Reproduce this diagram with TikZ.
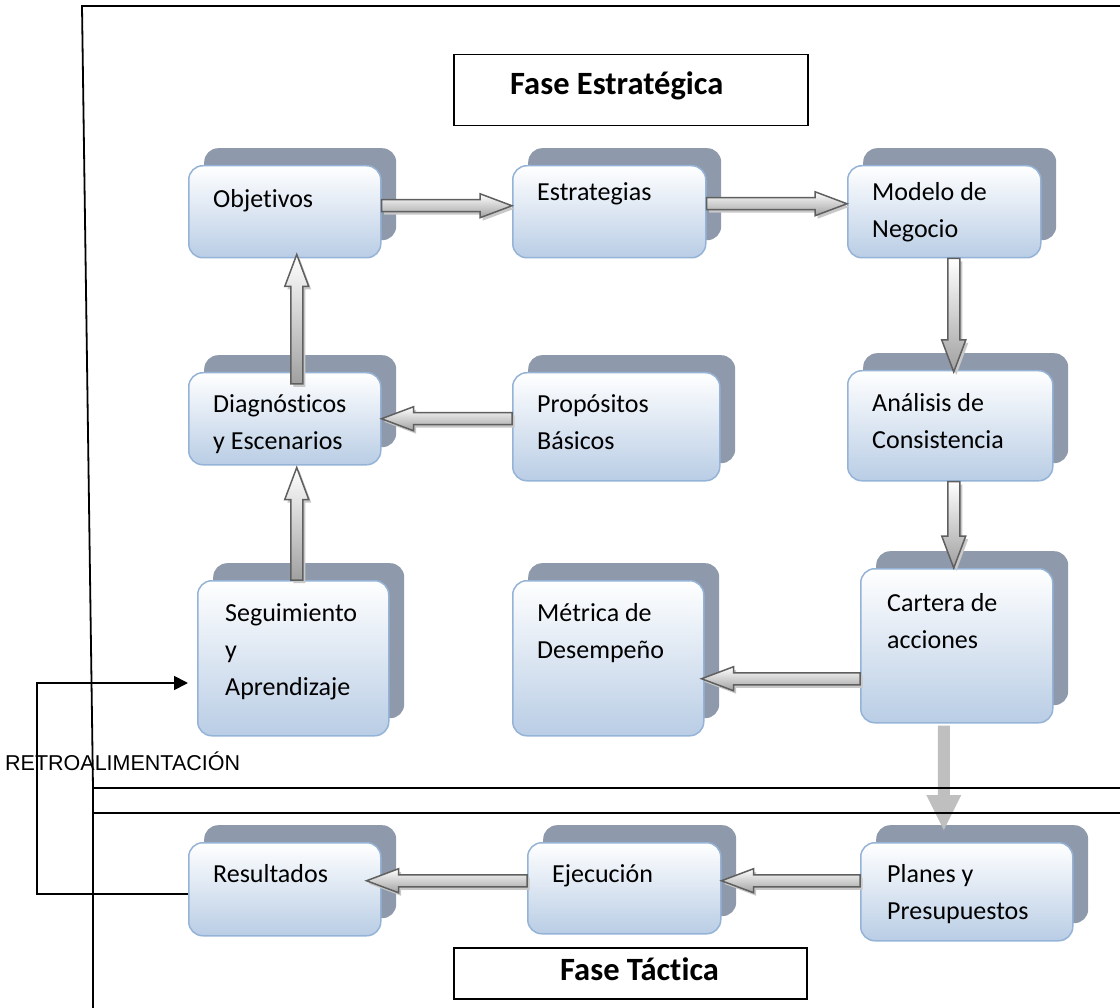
\documentclass[tikz,border=0pt]{standalone}
\usepackage{fontspec}
\setmainfont{Carlito}[Ligatures=NoCommon]
\newfontfamily\arialf{Liberation Sans}
\usetikzlibrary{calc,arrows.meta}
\definecolor{fborder}{HTML}{95B3D7}
\definecolor{fblue}{HTML}{B9CDE5}
\definecolor{bgray}{HTML}{8E9AAB}
\definecolor{aout}{HTML}{5F5F5F}
\definecolor{ashade}{HTML}{A0A0A0}
\definecolor{ashadow}{HTML}{C8C8C8}
\definecolor{solidarr}{HTML}{BFBFBF}
\tikzset{
 frontbox/.style={draw=fborder, line width=1.5pt, rounded corners=14pt, top color=white, bottom color=fblue, anchor=north west, inner sep=0pt},
 backbox/.style={fill=bgray, rounded corners=14pt, anchor=north west, inner sep=0pt},
 lbl/.style={anchor=north west, inner sep=0pt, align=left, font=\fontsize{26}{37}\selectfont, yshift=25.9pt},
 titlebox/.style={draw=black, line width=1.5pt, anchor=north west, inner sep=0pt},
 titletext/.style={anchor=base west, inner sep=0pt, font=\fontsize{32.5}{38}\selectfont\bfseries},
 frame/.style={draw=black, line width=1.8pt},
 fb/.style={draw=black, line width=1.8pt},
 barrow/.style={draw=aout, line width=1.5pt, top color=white, bottom color=ashade, line join=miter},
 barrowshadow/.style={fill=ashadow},
}
\newcommand\stagebox[5]{%
 \node[backbox, minimum width={(#4-#2)*1pt}, minimum height={(#5-#3)*1pt}] (#1B) at ({#2+16},{#3-17}) {};
 \node[frontbox, minimum width={(#4-#2)*1pt}, minimum height={(#5-#3)*1pt}] (#1) at (#2,#3) {};
}
\newcommand\arrowpoly{($(baA)!6pt!90:(baB)$) -- ($(baH)!6pt!-90:(baA)$) -- ($(baH)!12pt!-90:(baA)$) -- (baB) -- ($(baH)!12pt!90:(baA)$) -- ($(baH)!6pt!90:(baA)$) -- ($(baA)!6pt!-90:(baB)$) -- cycle}
\newcommand\blockarrow[2]{%
 \coordinate (baA) at #1;
 \coordinate (baB) at #2;
 \coordinate (baH) at ($(baB)!32pt!(baA)$);
 \begin{scope}[transform canvas={xshift=2.5pt,yshift=-3pt}]
  \fill[barrowshadow] \arrowpoly;
 \end{scope}
 \shadedraw[barrow] \arrowpoly;
}
\begin{document}
\begin{tikzpicture}[x=1pt,y=-1pt]
\useasboundingbox (0,0) rectangle (1120,1008);
% boxes
\stagebox{obj}{188}{165}{380}{257}
\stagebox{est}{512}{165}{705}{257}
\stagebox{mod}{847}{165}{1040}{257}
\stagebox{dia}{188}{372}{380}{464}
\stagebox{pro}{512}{372}{719}{480}
\stagebox{ana}{847}{370}{1052}{480}
\stagebox{seg}{197}{580}{388}{735}
\stagebox{met}{512}{580}{703}{735}
\stagebox{car}{860}{568}{1052}{722}
\stagebox{res}{188}{842}{380}{935}
\stagebox{eje}{527}{842}{720}{933}
\stagebox{pla}{860}{842}{1072}{940}
% texts
\node[lbl] (objT) at (213,207) {\strut Objetivos};
\node[lbl] (estT) at (537,200) {\strut Estrategias};
\node[lbl] (modT) at (872,200) {\strut Modelo de\\\strut Negocio};
\node[lbl] (diaT) at (213,412) {\strut Diagnósticos\\\strut y Escenarios};
\node[lbl] (proT) at (537,412) {\strut Propósitos\\\strut Básicos};
\node[lbl] (anaT) at (872,411) {\strut Análisis de\\\strut Consistencia};
\node[lbl] (segT) at (225,621) {\strut Seguimiento\\\strut y\\\strut Aprendizaje};
\node[lbl] (metT) at (537,621) {\strut Métrica de\\\strut Desempeño};
\node[lbl] (carT) at (887,611) {\strut Cartera de\\\strut acciones};
\node[lbl] (resT) at (213,882) {\strut Resultados};
\node[lbl] (ejeT) at (552,882) {\strut Ejecución};
\node[lbl] (plaT) at (887,882) {\strut Planes y\\\strut Presupuestos};
% titles
\node[titlebox, minimum width=354pt, minimum height=71pt] (feB) at (453,54) {};
\node[titletext] (feT) at (510,95) {Fase Estratégica};
\node[titlebox, minimum width=353pt, minimum height=51pt] (ftB) at (453,947) {};
\node[titletext] (ftT) at (560,980) {Fase Táctica};
% block arrows
\blockarrow{([yshift=6pt]obj.east)}{([yshift=6pt]est.west)}
\blockarrow{([yshift=8pt]est.east)}{([yshift=8pt]mod.west)}
\blockarrow{([yshift=8pt]pro.west)}{(dia.east)}
\blockarrow{([yshift=-33pt]car.west)}{([xshift=-3pt,yshift=-20.5pt]met.east)}
\blockarrow{([yshift=11pt]pla.west)}{([yshift=7.5pt]eje.east)}
\blockarrow{([yshift=7.5pt]eje.west)}{([xshift=-15pt,yshift=8.5pt]res.east)}
\blockarrow{([xshift=9.5pt]mod.south)}{([xshift=3.5pt,yshift=-2pt]ana.north)}
\blockarrow{([xshift=3.5pt]ana.south)}{([xshift=-3pt]car.north)}
\blockarrow{([xshift=12pt,yshift=-12pt]dia.north)}{([xshift=12pt,yshift=4pt]obj.south)}
\blockarrow{([xshift=3.5pt]seg.north)}{([xshift=12pt,yshift=-2pt]dia.south)}
% solid arrow to tactical phase
\coordinate (sA) at ([xshift=-13pt,yshift=-2pt]car.south);
\coordinate (sB) at ([xshift=-23pt,yshift=12pt]pla.north);
\coordinate (sH) at ($(sB)!35pt!(sA)$);
\fill[solidarr] ($(sA)!6pt!90:(sB)$) -- ($(sH)!6pt!-90:(sA)$) -- ($(sH)!17.5pt!-90:(sA)$) -- (sB) -- ($(sH)!17.5pt!90:(sA)$) -- ($(sH)!6pt!90:(sA)$) -- ($(sA)!6pt!-90:(sB)$) -- cycle;
% frame
\draw[frame] (1120,6) -- (82,6) -- (93,788) -- (93,1008);
\draw[frame] (93,788) -- (1120,788);
\draw[frame] (93,813) -- (1120,813);
% feedback
\node[anchor=base west, inner sep=0pt, font=\arialf\fontsize{21.5}{25}\selectfont] (retro) at (5,770) {RETROALIMENTACIÓN};
\coordinate (fbc) at (37,683);
\coordinate (fbt) at ([xshift=-9pt]seg.west);
\draw[fb, -{Triangle[length=14pt,width=14pt]}] ([yshift=-4.5pt]res.west) -| (fbc) -- (fbt |- fbc);
\end{tikzpicture}
\end{document}
